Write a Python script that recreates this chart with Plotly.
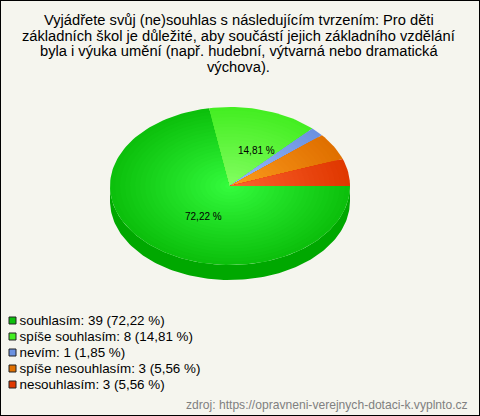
import math
import plotly.graph_objects as go

CATEGORIES = ["souhlasím", "spíše souhlasím", "nevím", "spíše nesouhlasím", "nesouhlasím"]
COUNTS = [39, 8, 1, 3, 3]
PERCENT_LABELS = ["72,22 %", "14,81 %", "1,85 %", "5,56 %", "5,56 %"]
SHOWN_LABELS = ["72,22 %", "14,81 %"]
TITLE_LINES = [
    "Vyjádřete svůj (ne)souhlas s následujícím tvrzením: Pro děti",
    "základních škol je důležité, aby součástí jejich základního vzdělání",
    "byla i výuka umění (např. hudební, výtvarná nebo dramatická",
    "výchova).",
]
SOURCE = "zdroj: https://opravneni-verejnych-dotaci-k.vyplnto.cz"

EDGE_COLORS = [(12, 192, 12), (68, 238, 34), (108, 146, 224), (224, 112, 0), (224, 56, 0)]
CENTER_COLORS = [(54, 255, 64), (136, 255, 102), (155, 190, 255), (255, 160, 32), (255, 102, 51)]
WALL_COLOR = "#00a800"

W, H = 480, 416
CX, CY, RX, RY, DEPTH = 230, 186, 120, 79, 15
RINGS = 24


def px(x):
    return (x - CX) / RX


def py(y):
    return (CY - y) / RY


def mix(a, b, t):
    return "rgb(%d,%d,%d)" % tuple(round(a[i] + (b[i] - a[i]) * t) for i in range(3))


total = sum(COUNTS)
fig = go.Figure()

angles = [i * math.pi / 120 for i in range(121)]
wx = [math.cos(a) for a in angles]
wy = [-math.sin(a) for a in angles]
dy = DEPTH / RY
fig.add_trace(go.Scatter(
    x=wx + wx[::-1], y=[v - dy for v in wy] + wy[::-1], mode="lines", fill="toself",
    fillcolor=WALL_COLOR, line=dict(width=0), hoverinfo="skip", showlegend=False))

start = 0.0
for i, n in enumerate(COUNTS):
    sweep = 2 * math.pi * n / total
    steps = max(3, int(sweep / (math.pi / 90)))
    for ring in range(RINGS, 0, -1):
        t = ring / RINGS
        r = t
        xs, ys = [0.0], [0.0]
        for s in range(steps + 1):
            a = start + sweep * s / steps
            xs.append(r * math.cos(a))
            ys.append(-r * math.sin(a))
        xs.append(0.0)
        ys.append(0.0)
        fig.add_trace(go.Scatter(
            x=xs, y=ys, mode="lines", fill="toself",
            fillcolor=mix(CENTER_COLORS[i], EDGE_COLORS[i], t ** 0.9),
            line=dict(width=0), name=CATEGORIES[i],
            text=f"{CATEGORIES[i]}: {n} ({PERCENT_LABELS[i]})", hoverinfo="text", showlegend=False))
    start += sweep

LEG_Y = [320.5, 336.5, 352.5, 368.5, 384.5]
fig.add_trace(go.Scatter(
    x=[px(12.5)] * 5, y=[py(v) for v in LEG_Y], mode="markers",
    marker=dict(symbol="square", size=7, color=["rgb(%d,%d,%d)" % c for c in EDGE_COLORS],
                line=dict(color="#222222", width=1)),
    hoverinfo="skip", showlegend=False))
fig.add_trace(go.Scatter(
    x=[px(19.5)] * 5, y=[py(v + 1) for v in LEG_Y], mode="text",
    text=[f"{c}: {n} ({p})" for c, n, p in zip(CATEGORIES, COUNTS, PERCENT_LABELS)],
    textposition="middle right",
    textfont=dict(family="Liberation Sans", size=13.4, color="#000000"),
    hoverinfo="skip", showlegend=False))

annotations = []
for line, y in zip(TITLE_LINES, [20, 36, 51, 67]):
    annotations.append(dict(text=line, x=0.4975, y=1 - y / H, xref="paper", yref="paper",
                            showarrow=False, xanchor="center", yanchor="middle",
                            font=dict(family="Liberation Sans", size=14.7, color="#000000")))
for label, (lx, ly) in zip(SHOWN_LABELS, [(203, 216), (256, 150)]):
    annotations.append(dict(text=label, x=lx / W, y=1 - ly / H, xref="paper", yref="paper",
                            showarrow=False, xanchor="center", yanchor="middle",
                            font=dict(family="Liberation Sans", size=10, color="#000000")))
annotations.append(dict(text=SOURCE, x=470 / W, y=1 - 405 / H, xref="paper", yref="paper",
                        showarrow=False, xanchor="right", yanchor="middle",
                        font=dict(family="Liberation Sans", size=12.1, color="#808080")))

fig.update_layout(
    width=W, height=H, margin=dict(l=0, r=0, t=0, b=0, pad=0),
    paper_bgcolor="#f5f5ee", plot_bgcolor="#f5f5ee", showlegend=False,
    xaxis=dict(range=[px(0), px(W)], visible=False, fixedrange=True),
    yaxis=dict(range=[py(H), py(0)], visible=False, fixedrange=True),
    annotations=annotations,
    shapes=[dict(type="rect", xref="paper", yref="paper", x0=0, y0=0, x1=1, y1=1,
                 line=dict(color="#000000", width=2), fillcolor="rgba(0,0,0,0)")],
)
fig.write_html("out.html", config={"displayModeBar": False},
               post_script="document.body.style.margin='0';document.documentElement.style.overflow='hidden';")
